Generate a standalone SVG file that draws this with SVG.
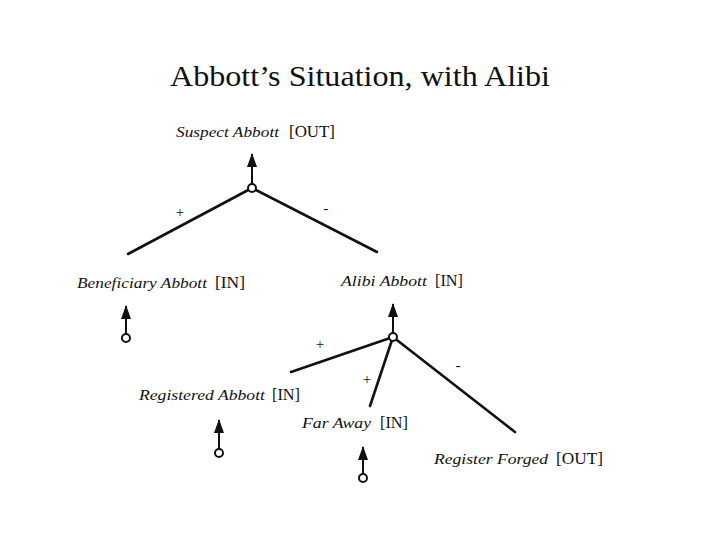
<svg xmlns="http://www.w3.org/2000/svg" width="720" height="540" viewBox="0 0 720 540">
<defs>
<style>
.t{font-family:"Liberation Serif","Times New Roman",serif;fill:#111;}
.it{font-style:italic;font-size:15px;}
.rg{font-size:16px;}
.sg{font-size:15px;}
.ln{stroke:#111;stroke-width:2.6;fill:none;stroke-linecap:round;}
.ar{stroke:#111;stroke-width:2;fill:none;}
.jc{fill:#fff;stroke:#111;stroke-width:2;}
</style>
<marker id="ah" viewBox="0 0 14 10" refX="13" refY="5" markerWidth="14" markerHeight="10" markerUnits="userSpaceOnUse" orient="auto">
<path d="M0,0 L14,5 L0,10 Z" fill="#111"/>
</marker>
</defs>
<rect width="720" height="540" fill="#fff"/>
<text class="t" x="360" y="86" text-anchor="middle" font-size="30" textLength="380" lengthAdjust="spacingAndGlyphs">Abbott’s Situation, with Alibi</text>

<g id="connectors">
<line class="ln" x1="252" y1="188" x2="128" y2="254"/>
<line class="ln" x1="252" y1="188" x2="377" y2="252"/>
<line class="ln" x1="393" y1="337" x2="291" y2="372"/>
<line class="ln" x1="393" y1="337" x2="370" y2="406"/>
<line class="ln" x1="393" y1="337" x2="515" y2="432"/>
<text class="t sg" x="180" y="217" text-anchor="middle">+</text>
<text class="t sg" x="326" y="213" text-anchor="middle">-</text>
<text class="t sg" x="320" y="349" text-anchor="middle">+</text>
<text class="t sg" x="367" y="384" text-anchor="middle">+</text>
<text class="t sg" x="458" y="370" text-anchor="middle">-</text>
</g>

<g id="suspect-abbott">
<text class="t it" x="176" y="137" textLength="103" lengthAdjust="spacingAndGlyphs">Suspect Abbott</text>
<text class="t rg" x="289" y="137" textLength="46" lengthAdjust="spacingAndGlyphs">[OUT]</text>
<line class="ar" x1="252" y1="184" x2="252" y2="154" marker-end="url(#ah)"/>
<circle class="jc" cx="252" cy="188" r="4"/>
</g>

<g id="beneficiary-abbott">
<text class="t it" x="77" y="288" textLength="130" lengthAdjust="spacingAndGlyphs">Beneficiary Abbott</text>
<text class="t rg" x="215" y="288" textLength="30" lengthAdjust="spacingAndGlyphs">[IN]</text>
<line class="ar" x1="126" y1="334" x2="126" y2="306" marker-end="url(#ah)"/>
<circle class="jc" cx="126" cy="338" r="4"/>
</g>

<g id="alibi-abbott">
<text class="t it" x="341" y="286" textLength="86" lengthAdjust="spacingAndGlyphs">Alibi Abbott</text>
<text class="t rg" x="435" y="286" textLength="28" lengthAdjust="spacingAndGlyphs">[IN]</text>
<line class="ar" x1="393" y1="333" x2="393" y2="304" marker-end="url(#ah)"/>
<circle class="jc" cx="393" cy="337" r="4"/>
</g>

<g id="registered-abbott">
<text class="t it" x="139" y="400" textLength="126" lengthAdjust="spacingAndGlyphs">Registered Abbott</text>
<text class="t rg" x="272" y="400" textLength="28" lengthAdjust="spacingAndGlyphs">[IN]</text>
<line class="ar" x1="219" y1="449" x2="219" y2="420" marker-end="url(#ah)"/>
<circle class="jc" cx="219" cy="453" r="4"/>
</g>

<g id="far-away">
<text class="t it" x="302" y="428" textLength="69" lengthAdjust="spacingAndGlyphs">Far Away</text>
<text class="t rg" x="380" y="428" textLength="28" lengthAdjust="spacingAndGlyphs">[IN]</text>
<line class="ar" x1="363" y1="474" x2="363" y2="447" marker-end="url(#ah)"/>
<circle class="jc" cx="363" cy="478" r="4"/>
</g>

<g id="register-forged">
<text class="t it" x="434" y="464" textLength="114" lengthAdjust="spacingAndGlyphs">Register Forged</text>
<text class="t rg" x="556" y="464" textLength="47" lengthAdjust="spacingAndGlyphs">[OUT]</text>
</g>
</svg>
